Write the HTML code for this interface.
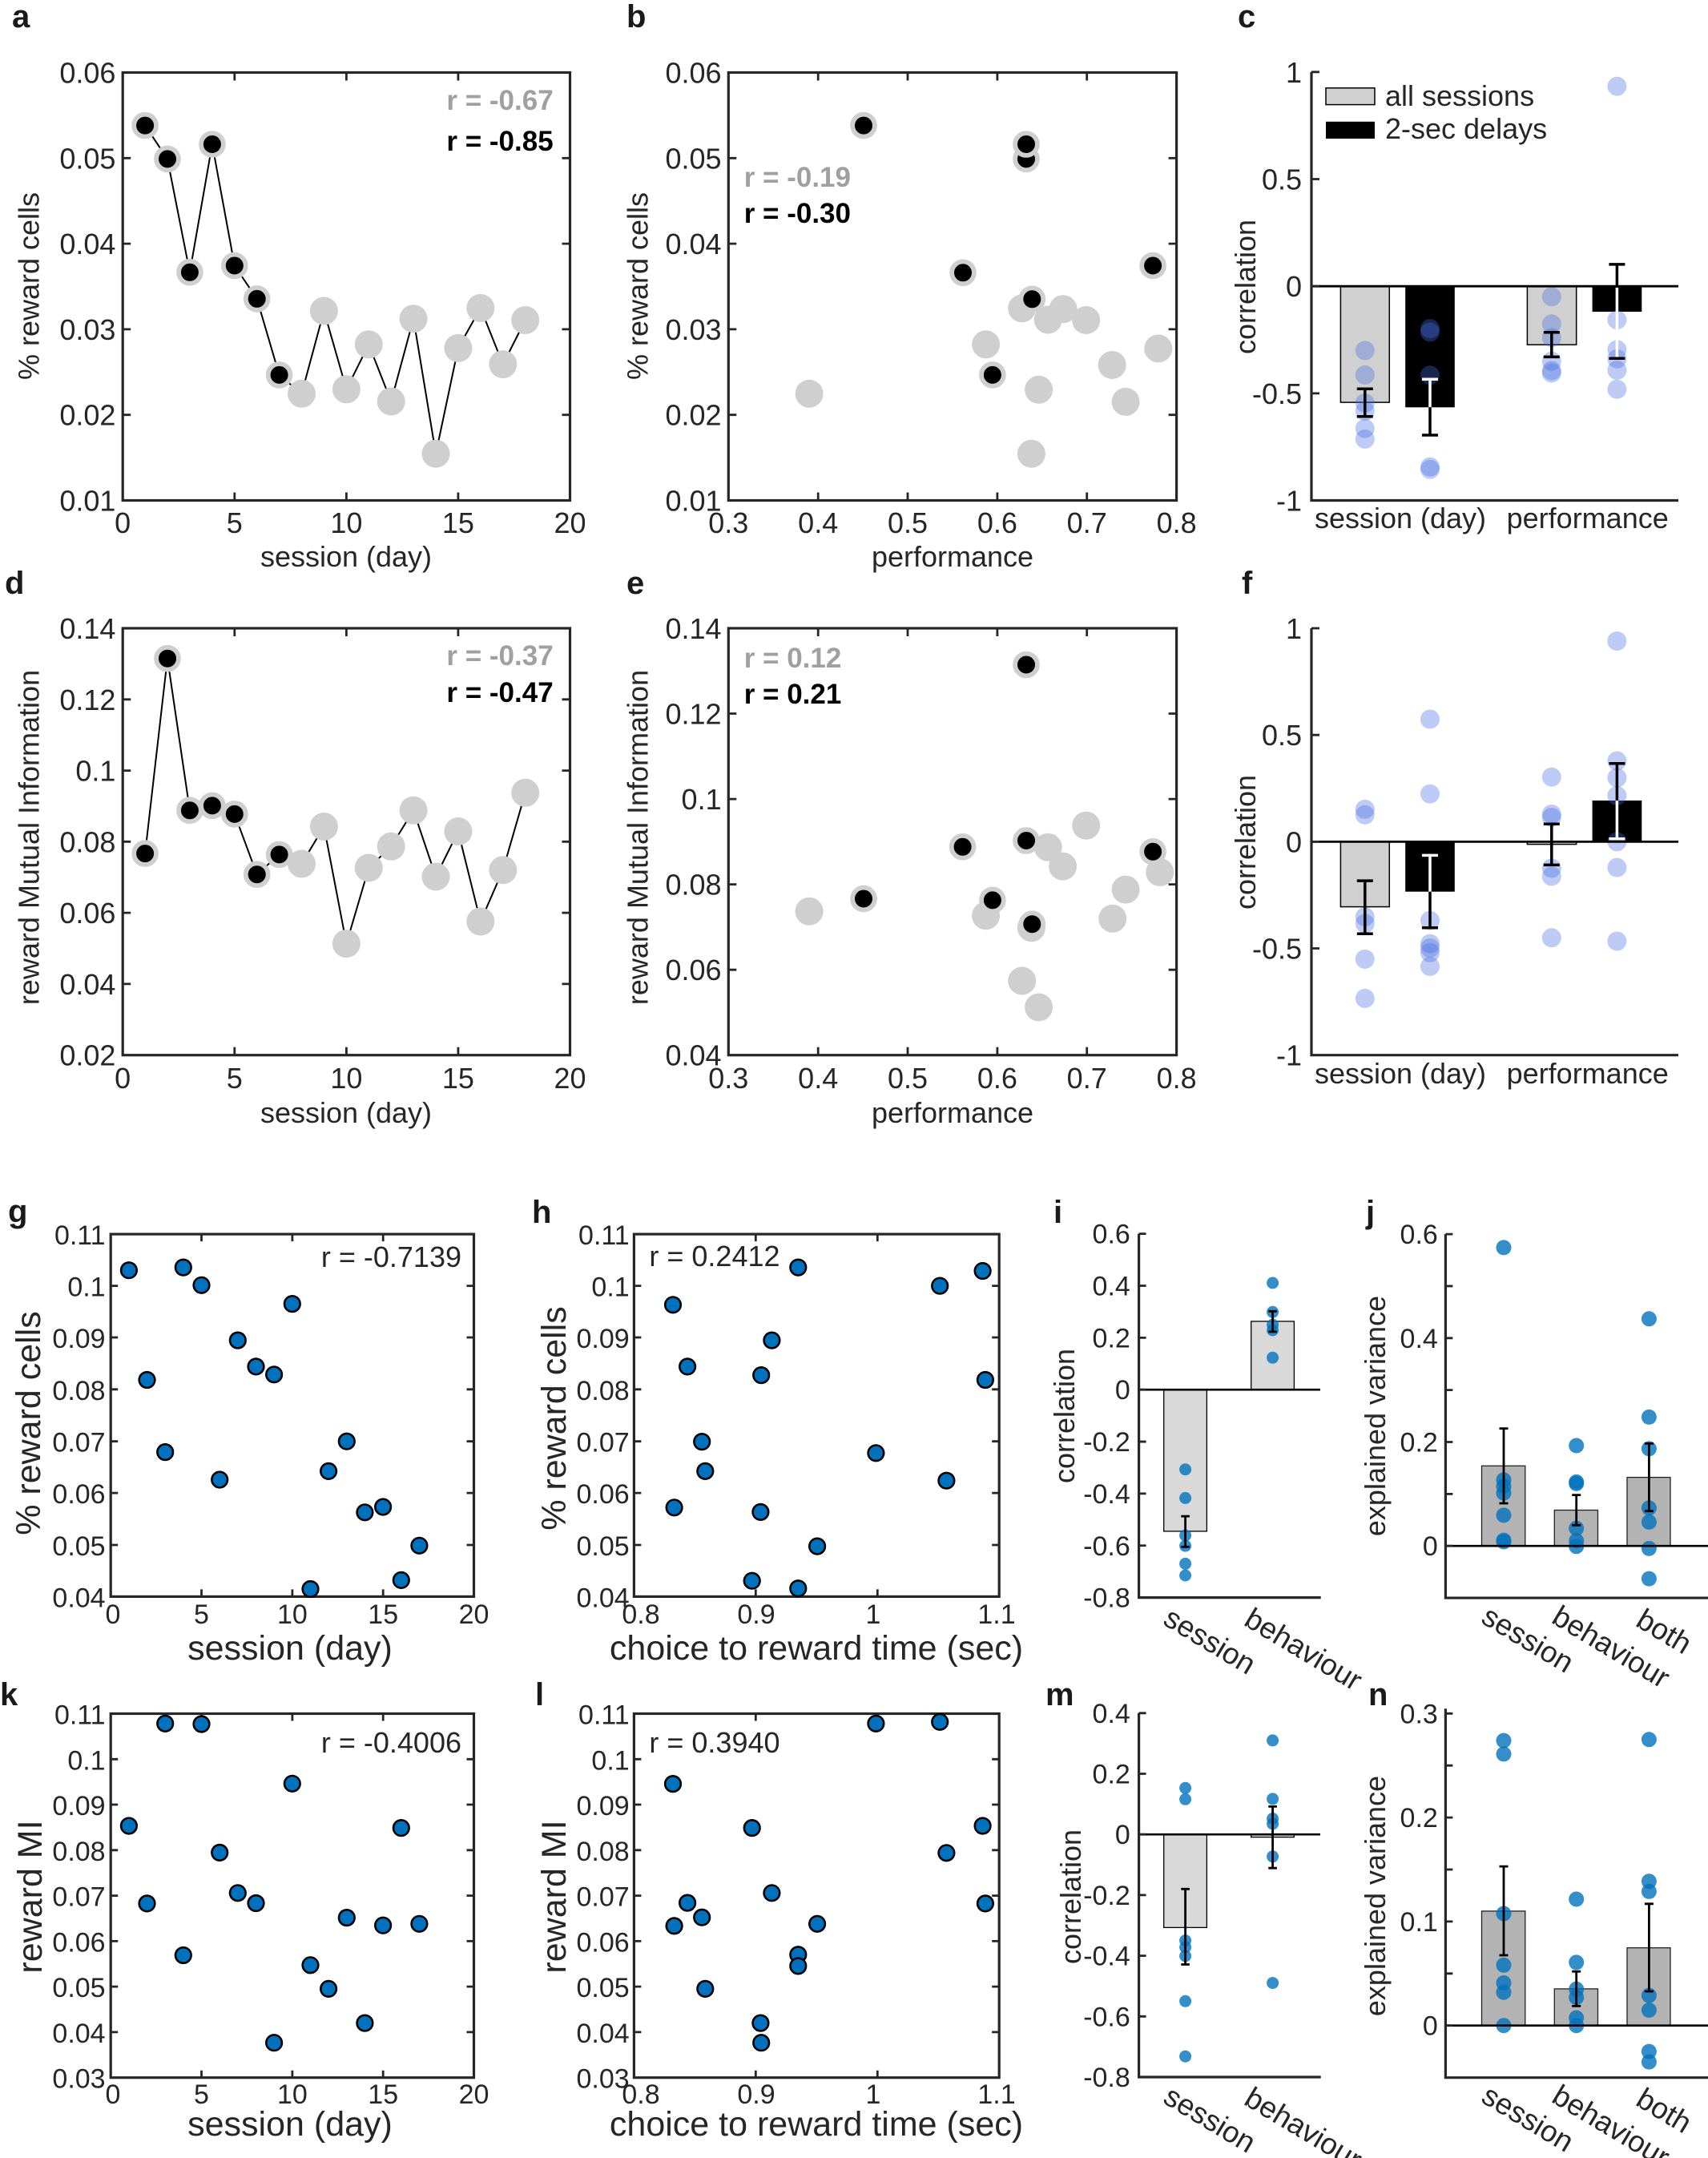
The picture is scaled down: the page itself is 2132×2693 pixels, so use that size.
<!DOCTYPE html>
<html><head><meta charset="utf-8"><style>
html,body{margin:0;padding:0;background:#fff;}
svg{display:block;}
text{font-family:"Liberation Sans",Arial,Helvetica,sans-serif;fill:#262626;}
.t36{font-size:36px;}
.t34{font-size:34px;}
.t43{font-size:43px;}
.t37{font-size:37px;}
.L{font-size:40px;font-weight:bold;fill:#1a1a1a;}
.rb{font-size:35px;font-weight:bold;}
.ax{fill:none;stroke:#262626;stroke-width:3.2;}
.tk{fill:none;stroke:#262626;stroke-width:2.8;}
.gc{fill:#cfcfcf;}
.bc{fill:#000;stroke:#cfcfcf;stroke-width:5.8;}
.bm{fill:#0072BD;stroke:#000;stroke-width:2.6;}
.rd{fill:#4169E1;fill-opacity:0.35;}
.bd{fill:#0072BD;fill-opacity:0.8;}
.eb{fill:none;stroke:#000;stroke-width:3.5;}
.ew{fill:none;stroke:#fff;stroke-width:3.5;}
.eb2{fill:none;stroke:#000;stroke-width:2.8;}
</style></head><body>
<svg width="2132" height="2693" viewBox="0 0 2132 2693" xmlns="http://www.w3.org/2000/svg">
<rect width="2132" height="2693" fill="#fff"/>

<!-- ===== Panel a ===== -->
<text class="L" x="15" y="34">a</text>
<rect class="ax" x="153.2" y="90.5" width="558.3" height="534"/>
<path class="tk" d="M153.2 197.3h10M153.2 304.1h10M153.2 410.9h10M153.2 517.7h10M711.5 197.3h-10M711.5 304.1h-10M711.5 410.9h-10M711.5 517.7h-10M292.8 624.5v-10M432.4 624.5v-10M571.9 624.5v-10M292.8 90.5v10M432.4 90.5v10M571.9 90.5v10"/>
<g class="t36" text-anchor="end">
<text x="144.4" y="103.5">0.06</text><text x="144.4" y="210.3">0.05</text><text x="144.4" y="317.1">0.04</text><text x="144.4" y="423.9">0.03</text><text x="144.4" y="530.7">0.02</text><text x="144.4" y="637.5">0.01</text>
</g>
<g class="t36" text-anchor="middle">
<text x="153.2" y="665">0</text><text x="292.8" y="665">5</text><text x="432.4" y="665">10</text><text x="571.9" y="665">15</text><text x="711.5" y="665">20</text>
<text x="432" y="707">session (day)</text>
<text transform="translate(48.5,357) rotate(-90)">% reward cells</text>
</g>
<polyline fill="none" stroke="#000" stroke-width="2" points="181.1,156.6 209.0,198.4 236.9,339.8 264.9,180.0 292.8,331.5 320.7,372.9 348.6,467.9 376.5,491.3 404.4,388.0 432.4,485.8 460.3,429.8 488.2,501.0 516.1,397.7 544.0,566.2 571.9,434.4 599.8,384.4 627.8,454.6 655.7,399.5"/>
<g class="gc">
<circle cx="376.5" cy="491.3" r="17.5"/><circle cx="404.4" cy="388.0" r="17.5"/><circle cx="432.4" cy="485.8" r="17.5"/><circle cx="460.3" cy="429.8" r="17.5"/><circle cx="488.2" cy="501.0" r="17.5"/><circle cx="516.1" cy="397.7" r="17.5"/><circle cx="544.0" cy="566.2" r="17.5"/><circle cx="571.9" cy="434.4" r="17.5"/><circle cx="599.8" cy="384.4" r="17.5"/><circle cx="627.8" cy="454.6" r="17.5"/><circle cx="655.7" cy="399.5" r="17.5"/>
</g>
<g class="bc">
<circle cx="181.1" cy="156.6" r="13.9"/><circle cx="209.0" cy="198.4" r="13.9"/><circle cx="236.9" cy="339.8" r="13.9"/><circle cx="264.9" cy="180.0" r="13.9"/><circle cx="292.8" cy="331.5" r="13.9"/><circle cx="320.7" cy="372.9" r="13.9"/><circle cx="348.6" cy="467.9" r="13.9"/>
</g>
<text class="rb" x="690.7" y="137" text-anchor="end" style="fill:#a0a0a0">r = -0.67</text>
<text class="rb" x="690.7" y="188" text-anchor="end" style="fill:#000">r = -0.85</text>

<!-- ===== Panel b ===== -->
<text class="L" x="782" y="34">b</text>
<rect class="ax" x="909.3" y="90.5" width="559.3" height="534"/>
<path class="tk" d="M909.3 197.3h10M909.3 304.1h10M909.3 410.9h10M909.3 517.7h10M1468.6 197.3h-10M1468.6 304.1h-10M1468.6 410.9h-10M1468.6 517.7h-10M1021.2 624.5v-10M1133.0 624.5v-10M1244.9 624.5v-10M1356.7 624.5v-10M1021.2 90.5v10M1133.0 90.5v10M1244.9 90.5v10M1356.7 90.5v10"/>
<g class="t36" text-anchor="end">
<text x="900.6" y="103.5">0.06</text><text x="900.6" y="210.3">0.05</text><text x="900.6" y="317.1">0.04</text><text x="900.6" y="423.9">0.03</text><text x="900.6" y="530.7">0.02</text><text x="900.6" y="637.5">0.01</text>
</g>
<g class="t36" text-anchor="middle">
<text x="909.3" y="665">0.3</text><text x="1021.2" y="665">0.4</text><text x="1133.0" y="665">0.5</text><text x="1244.9" y="665">0.6</text><text x="1356.7" y="665">0.7</text><text x="1468.6" y="665">0.8</text>
<text x="1189" y="707">performance</text>
<text transform="translate(808.5,357) rotate(-90)">% reward cells</text>
</g>
<g class="gc">
<circle cx="1010.1" cy="491.3" r="17.5"/><circle cx="1275.7" cy="384.8" r="17.5"/><circle cx="1308.2" cy="399.0" r="17.5"/><circle cx="1327.1" cy="385.7" r="17.5"/><circle cx="1355.7" cy="399.5" r="17.5"/><circle cx="1230.6" cy="429.8" r="17.5"/><circle cx="1445.8" cy="434.9" r="17.5"/><circle cx="1388.2" cy="455.5" r="17.5"/><circle cx="1296.6" cy="486.3" r="17.5"/><circle cx="1405.1" cy="501.4" r="17.5"/><circle cx="1287.4" cy="566.2" r="17.5"/>
</g>
<g class="bc">
<circle cx="1078.0" cy="156.6" r="13.9"/><circle cx="1281.0" cy="198.4" r="13.9"/><circle cx="1281.0" cy="180.0" r="13.9"/><circle cx="1202.0" cy="340.3" r="13.9"/><circle cx="1439.1" cy="331.5" r="13.9"/><circle cx="1288.3" cy="373.3" r="13.9"/><circle cx="1238.9" cy="467.9" r="13.9"/>
</g>
<text class="rb" x="928.7" y="233" style="fill:#a0a0a0">r = -0.19</text>
<text class="rb" x="928.7" y="278" style="fill:#000">r = -0.30</text>

<!-- ===== Panel c ===== -->
<text class="L" x="1545" y="34">c</text>
<rect x="1673.4" y="357.2" width="60.9" height="144.9" fill="#d0d0d0" stroke="#000" stroke-width="1.5"/>
<rect x="1754.2" y="357.2" width="61.6" height="151.1" fill="#000"/>
<rect x="1906.4" y="357.2" width="61.3" height="73" fill="#d0d0d0" stroke="#000" stroke-width="1.5"/>
<rect x="1987.6" y="357.2" width="61.7" height="31.8" fill="#000"/>
<g class="rd">
<circle cx="1703.8" cy="437.4" r="12"/><circle cx="1703.8" cy="467.9" r="12"/><circle cx="1703.8" cy="502.9" r="12"/><circle cx="1703.8" cy="513.1" r="12"/><circle cx="1703.8" cy="534.7" r="12"/><circle cx="1703.8" cy="547.9" r="12"/>
<circle cx="1785" cy="410.1" r="12"/><circle cx="1785" cy="414.4" r="12"/><circle cx="1785" cy="468.2" r="12"/><circle cx="1785" cy="582.6" r="12"/><circle cx="1785" cy="585.8" r="12"/>
<circle cx="1936.8" cy="370.3" r="12"/><circle cx="1936.8" cy="404.3" r="12"/><circle cx="1936.8" cy="421.4" r="12"/><circle cx="1936.8" cy="450.8" r="12"/><circle cx="1936.8" cy="462.5" r="12"/><circle cx="1936.8" cy="465.5" r="12"/>
<circle cx="2018.4" cy="107.7" r="12"/><circle cx="2018.4" cy="399.2" r="12"/><circle cx="2018.4" cy="436.3" r="12"/><circle cx="2018.4" cy="447.8" r="12"/><circle cx="2018.4" cy="462.0" r="12"/><circle cx="2018.4" cy="485.8" r="12"/>
</g>
<path d="M1637 357.2H2095" stroke="#000" stroke-width="2.8"/>
<path class="eb" d="M1703.8 485.3V519.8M1693.8 485.3h20M1693.8 519.8h20"/>
<path class="ew" d="M1785 473.2V508.3M1775 473.2h20"/>
<path class="eb" d="M1785 508.3V543M1775 543h20"/>
<path class="eb" d="M1936.8 414.7V445.4M1926.8 414.7h20M1926.8 445.4h20"/>
<path class="eb" d="M2018.4 329.9V357.2M2008.4 329.9h20"/>
<path class="ew" d="M2018.4 359V447.3"/>
<path class="eb" d="M2008.4 447.3h20"/>
<path class="ax" d="M1637 89.8V624.5H2095"/>
<path class="tk" d="M1637 89.8h10M1637 223.5h10M1637 357.2h10M1637 490.9h10"/>
<g class="t36" text-anchor="end">
<text x="1625" y="102.8">1</text><text x="1625" y="236.5">0.5</text><text x="1625" y="370.2">0</text><text x="1625" y="503.9">-0.5</text><text x="1625" y="637.5">-1</text>
</g>
<g class="t36" text-anchor="middle">
<text x="1748" y="659">session (day)</text><text x="1981.7" y="659">performance</text>
<text transform="translate(1566.8,358) rotate(-90)">correlation</text>
</g>
<rect x="1655" y="109.8" width="61" height="20.8" fill="#d0d0d0" stroke="#000" stroke-width="1.5"/>
<rect x="1655" y="151.8" width="61" height="21.2" fill="#000"/>
<text class="t36" x="1729" y="132">all sessions</text>
<text class="t36" x="1729" y="173">2-sec delays</text>

<!-- ===== Panel d ===== -->
<text class="L" x="6" y="741">d</text>
<rect class="ax" x="153.2" y="784" width="558.3" height="532.7"/>
<path class="tk" d="M153.2 872.8h10M153.2 961.6h10M153.2 1050.3h10M153.2 1139.1h10M153.2 1227.9h10M711.5 872.8h-10M711.5 961.6h-10M711.5 1050.3h-10M711.5 1139.1h-10M711.5 1227.9h-10M292.8 1316.7v-10M432.4 1316.7v-10M571.9 1316.7v-10M292.8 784v10M432.4 784v10M571.9 784v10"/>
<g class="t36" text-anchor="end">
<text x="144.4" y="797">0.14</text><text x="144.4" y="885.8">0.12</text><text x="144.4" y="974.6">0.1</text><text x="144.4" y="1063.3">0.08</text><text x="144.4" y="1152.1">0.06</text><text x="144.4" y="1240.9">0.04</text><text x="144.4" y="1329.7">0.02</text>
</g>
<g class="t36" text-anchor="middle">
<text x="153.2" y="1358">0</text><text x="292.8" y="1358">5</text><text x="432.4" y="1358">10</text><text x="571.9" y="1358">15</text><text x="711.5" y="1358">20</text>
<text x="432" y="1401">session (day)</text>
<text transform="translate(48.5,1045) rotate(-90)">reward Mutual Information</text>
</g>
<polyline fill="none" stroke="#000" stroke-width="2" points="181.1,1065.1 209.0,821.7 236.9,1011.3 264.9,1005.4 292.8,1015.9 320.7,1091.2 348.6,1066.4 376.5,1077.9 404.4,1031.5 432.4,1177.6 460.3,1083.0 488.2,1056.3 516.1,1011.3 544.0,1094.0 571.9,1037.5 599.8,1150.0 627.8,1085.7 655.7,989.3"/>
<g class="gc">
<circle cx="376.5" cy="1077.9" r="17.5"/><circle cx="404.4" cy="1031.5" r="17.5"/><circle cx="432.4" cy="1177.6" r="17.5"/><circle cx="460.3" cy="1083.0" r="17.5"/><circle cx="488.2" cy="1056.3" r="17.5"/><circle cx="516.1" cy="1011.3" r="17.5"/><circle cx="544.0" cy="1094.0" r="17.5"/><circle cx="571.9" cy="1037.5" r="17.5"/><circle cx="599.8" cy="1150.0" r="17.5"/><circle cx="627.8" cy="1085.7" r="17.5"/><circle cx="655.7" cy="989.3" r="17.5"/>
</g>
<g class="bc">
<circle cx="181.1" cy="1065.1" r="13.9"/><circle cx="209.0" cy="821.7" r="13.9"/><circle cx="236.9" cy="1011.3" r="13.9"/><circle cx="264.9" cy="1005.4" r="13.9"/><circle cx="292.8" cy="1015.9" r="13.9"/><circle cx="320.7" cy="1091.2" r="13.9"/><circle cx="348.6" cy="1066.4" r="13.9"/>
</g>
<text class="rb" x="690.7" y="830" text-anchor="end" style="fill:#a0a0a0">r = -0.37</text>
<text class="rb" x="690.7" y="876" text-anchor="end" style="fill:#000">r = -0.47</text>

<!-- ===== Panel e ===== -->
<text class="L" x="782" y="741">e</text>
<rect class="ax" x="909.3" y="784" width="559.3" height="532.7"/>
<path class="tk" d="M909.3 890.5h10M909.3 997.1h10M909.3 1103.6h10M909.3 1210.2h10M1468.6 890.5h-10M1468.6 997.1h-10M1468.6 1103.6h-10M1468.6 1210.2h-10M1021.2 1316.7v-10M1133.0 1316.7v-10M1244.9 1316.7v-10M1356.7 1316.7v-10M1021.2 784v10M1133.0 784v10M1244.9 784v10M1356.7 784v10"/>
<g class="t36" text-anchor="end">
<text x="900.6" y="797">0.14</text><text x="900.6" y="903.5">0.12</text><text x="900.6" y="1010.1">0.1</text><text x="900.6" y="1116.6">0.08</text><text x="900.6" y="1223.2">0.06</text><text x="900.6" y="1329.7">0.04</text>
</g>
<g class="t36" text-anchor="middle">
<text x="909.3" y="1358">0.3</text><text x="1021.2" y="1358">0.4</text><text x="1133.0" y="1358">0.5</text><text x="1244.9" y="1358">0.6</text><text x="1356.7" y="1358">0.7</text><text x="1468.6" y="1358">0.8</text>
<text x="1189" y="1401">performance</text>
<text transform="translate(808.5,1045) rotate(-90)">reward Mutual Information</text>
</g>
<g class="gc">
<circle cx="1010.1" cy="1137.2" r="17.5"/><circle cx="1355.7" cy="1030.2" r="17.5"/><circle cx="1308.2" cy="1057.3" r="17.5"/><circle cx="1326.6" cy="1081.1" r="17.5"/><circle cx="1447.8" cy="1088.5" r="17.5"/><circle cx="1405.1" cy="1110.1" r="17.5"/><circle cx="1230.6" cy="1142.7" r="17.5"/><circle cx="1388.7" cy="1146.3" r="17.5"/><circle cx="1287.4" cy="1157.8" r="17.5"/><circle cx="1275.7" cy="1224.0" r="17.5"/><circle cx="1296.6" cy="1257.0" r="17.5"/>
</g>
<g class="bc">
<circle cx="1281.0" cy="829.5" r="13.9"/><circle cx="1201.6" cy="1056.8" r="13.9"/><circle cx="1281.0" cy="1049.0" r="13.9"/><circle cx="1439.1" cy="1062.8" r="13.9"/><circle cx="1078.0" cy="1121.5" r="13.9"/><circle cx="1238.9" cy="1123.4" r="13.9"/><circle cx="1288.3" cy="1153.2" r="13.9"/>
</g>
<text class="rb" x="928.7" y="833" style="fill:#a0a0a0">r = 0.12</text>
<text class="rb" x="928.7" y="878" style="fill:#000">r = 0.21</text>

<!-- ===== Panel f ===== -->
<text class="L" x="1550" y="741">f</text>
<rect x="1673.4" y="1050.4" width="60.9" height="81.2" fill="#d0d0d0" stroke="#000" stroke-width="1.5"/>
<rect x="1754.2" y="1050.4" width="61.6" height="62.3" fill="#000"/>
<rect x="1906.4" y="1050.4" width="61.3" height="3.2" fill="#d0d0d0" stroke="#000" stroke-width="1.5"/>
<rect x="1987.6" y="999.0" width="61.7" height="51.4" fill="#000"/>
<g class="rd">
<circle cx="1703.8" cy="1009.9" r="12"/><circle cx="1703.8" cy="1016.8" r="12"/><circle cx="1703.8" cy="1144.2" r="12"/><circle cx="1703.8" cy="1152.4" r="12"/><circle cx="1703.8" cy="1196.9" r="12"/><circle cx="1703.8" cy="1245.9" r="12"/>
<circle cx="1785" cy="897.5" r="12"/><circle cx="1785" cy="990.7" r="12"/><circle cx="1785" cy="1148.7" r="12"/><circle cx="1785" cy="1177.7" r="12"/><circle cx="1785" cy="1183.0" r="12"/><circle cx="1785" cy="1188.9" r="12"/><circle cx="1785" cy="1205.9" r="12"/>
<circle cx="1936.8" cy="969.7" r="12"/><circle cx="1936.8" cy="1016.0" r="12"/><circle cx="1936.8" cy="1020.0" r="12"/><circle cx="1936.8" cy="1083.4" r="12"/><circle cx="1936.8" cy="1093.5" r="12"/><circle cx="1936.8" cy="1170.3" r="12"/>
<circle cx="2018.4" cy="800.0" r="12"/><circle cx="2018.4" cy="949.5" r="12"/><circle cx="2018.4" cy="970.5" r="12"/><circle cx="2018.4" cy="992.9" r="12"/><circle cx="2018.4" cy="1050.4" r="12"/><circle cx="2018.4" cy="1082.6" r="12"/><circle cx="2018.4" cy="1174.5" r="12"/>
</g>
<path d="M1637 1050.4H2095" stroke="#000" stroke-width="2.8"/>
<path class="eb" d="M1703.8 1099.1V1165.2M1693.8 1099.1h20M1693.8 1165.2h20"/>
<path class="ew" d="M1785 1067.4V1112.7M1775 1067.4h20"/>
<path class="eb" d="M1785 1112.7V1157.7M1775 1157.7h20"/>
<path class="eb" d="M1936.8 1028.3V1079.4M1926.8 1028.3h20M1926.8 1079.4h20"/>
<path class="eb" d="M2018.4 952.7V999M2008.4 952.7h20"/>
<path class="ew" d="M2018.4 999V1046.7M2008.4 1046.7h20"/>
<path class="ax" d="M1637 784V1316.7H2095"/>
<path class="tk" d="M1637 784h10M1637 917.2h10M1637 1050.4h10M1637 1183.5h10"/>
<g class="t36" text-anchor="end">
<text x="1625" y="797">1</text><text x="1625" y="930.2">0.5</text><text x="1625" y="1063.4">0</text><text x="1625" y="1196.5">-0.5</text><text x="1625" y="1329.7">-1</text>
</g>
<g class="t36" text-anchor="middle">
<text x="1748" y="1352">session (day)</text><text x="1981.7" y="1352">performance</text>
<text transform="translate(1566.8,1051) rotate(-90)">correlation</text>
</g>

<!-- ===== Panel g ===== -->
<text class="L" x="10" y="1525">g</text>
<rect class="ax" x="138.2" y="1540.1" width="453.3" height="452.3"/>
<path class="tk" d="M138.2 1604.6h9M138.2 1669.0h9M138.2 1733.8h9M138.2 1798.7h9M138.2 1863.1h9M138.2 1928.0h9M591.5 1604.6h-9M591.5 1669.0h-9M591.5 1733.8h-9M591.5 1798.7h-9M591.5 1863.1h-9M591.5 1928.0h-9M251.5 1992.4v-9M364.9 1992.4v-9M478.2 1992.4v-9M251.5 1540.1v9M364.9 1540.1v9M478.2 1540.1v9"/>
<g class="t34" text-anchor="end">
<text x="131.6" y="1553">0.11</text><text x="131.6" y="1617.5">0.1</text><text x="131.6" y="1682">0.09</text><text x="131.6" y="1746.8">0.08</text><text x="131.6" y="1811.7">0.07</text><text x="131.6" y="1876.1">0.06</text><text x="131.6" y="1941">0.05</text><text x="131.6" y="2005.4">0.04</text>
</g>
<g class="t34" text-anchor="middle">
<text x="141" y="2026">0</text><text x="251.5" y="2026">5</text><text x="364.9" y="2026">10</text><text x="478.2" y="2026">15</text><text x="591.5" y="2026">20</text>
</g>
<text class="t43" x="362" y="2071" text-anchor="middle">session (day)</text>
<text class="t43" transform="translate(50,1776) rotate(-90)" text-anchor="middle">% reward cells</text>
<g class="bm">
<circle cx="160.9" cy="1585.2" r="9.8"/><circle cx="183.5" cy="1722.0" r="9.8"/><circle cx="206.2" cy="1812.1" r="9.8"/><circle cx="228.8" cy="1581.6" r="9.8"/><circle cx="251.5" cy="1603.8" r="9.8"/><circle cx="274.2" cy="1846.5" r="9.8"/><circle cx="296.8" cy="1672.6" r="9.8"/><circle cx="319.5" cy="1705.4" r="9.8"/><circle cx="342.1" cy="1715.3" r="9.8"/><circle cx="364.8" cy="1627.1" r="9.8"/><circle cx="387.5" cy="1983.0" r="9.8"/><circle cx="410.1" cy="1835.9" r="9.8"/><circle cx="432.8" cy="1798.7" r="9.8"/><circle cx="455.4" cy="1887.3" r="9.8"/><circle cx="478.1" cy="1880.5" r="9.8"/><circle cx="500.8" cy="1971.9" r="9.8"/><circle cx="523.4" cy="1928.8" r="9.8"/>
</g>
<text class="t36" x="576" y="1581" text-anchor="end">r = -0.7139</text>

<!-- ===== Panel h ===== -->
<text class="L" x="664" y="1526">h</text>
<rect class="ax" x="791.4" y="1540.1" width="455.8" height="452.3"/>
<path class="tk" d="M791.4 1604.6h9M791.4 1669.0h9M791.4 1733.8h9M791.4 1798.7h9M791.4 1863.1h9M791.4 1928.0h9M1247.2 1604.6h-9M1247.2 1669.0h-9M1247.2 1733.8h-9M1247.2 1798.7h-9M1247.2 1863.1h-9M1247.2 1928.0h-9M943.3 1992.4v-9M1095.3 1992.4v-9M943.3 1540.1v9M1095.3 1540.1v9"/>
<g class="t34" text-anchor="end">
<text x="785.7" y="1553">0.11</text><text x="785.7" y="1617.5">0.1</text><text x="785.7" y="1682">0.09</text><text x="785.7" y="1746.8">0.08</text><text x="785.7" y="1811.7">0.07</text><text x="785.7" y="1876.1">0.06</text><text x="785.7" y="1941">0.05</text><text x="785.7" y="2005.4">0.04</text>
</g>
<g class="t34" text-anchor="middle">
<text x="800" y="2026">0.8</text><text x="944" y="2026">0.9</text><text x="1090" y="2026">1</text><text x="1244" y="2026">1.1</text>
</g>
<text class="t43" x="1019" y="2071" text-anchor="middle">choice to reward time (sec)</text>
<text class="t43" transform="translate(706,1770) rotate(-90)" text-anchor="middle">% reward cells</text>
<g class="bm">
<circle cx="996.3" cy="1581.6" r="9.8"/><circle cx="1226.6" cy="1586.0" r="9.8"/><circle cx="1173.2" cy="1604.6" r="9.8"/><circle cx="840.0" cy="1628.3" r="9.8"/><circle cx="963.4" cy="1672.6" r="9.8"/><circle cx="858.1" cy="1705.4" r="9.8"/><circle cx="950.2" cy="1716.1" r="9.8"/><circle cx="1229.9" cy="1722.0" r="9.8"/><circle cx="876.2" cy="1799.1" r="9.8"/><circle cx="1093.4" cy="1813.3" r="9.8"/><circle cx="880.3" cy="1835.9" r="9.8"/><circle cx="1181.4" cy="1847.7" r="9.8"/><circle cx="841.6" cy="1881.3" r="9.8"/><circle cx="949.4" cy="1886.9" r="9.8"/><circle cx="1020.1" cy="1929.6" r="9.8"/><circle cx="938.7" cy="1972.7" r="9.8"/><circle cx="996.3" cy="1982.2" r="9.8"/>
</g>
<text class="t36" x="810.4" y="1580">r = 0.2412</text>

<!-- ===== Panel i ===== -->
<text class="L" x="1315" y="1526">i</text>
<rect x="1452.7" y="1734.2" width="53.7" height="176.7" fill="#d9d9d9" stroke="#000" stroke-width="1.3"/>
<rect x="1561.7" y="1648.9" width="53.7" height="85.3" fill="#d9d9d9" stroke="#000" stroke-width="1.3"/>
<g class="bd">
<circle cx="1479.6" cy="1833.7" r="7.5"/><circle cx="1479.6" cy="1869.4" r="7.5"/><circle cx="1479.6" cy="1916.1" r="7.5"/><circle cx="1479.6" cy="1929.1" r="7.5"/><circle cx="1479.6" cy="1951.4" r="7.5"/><circle cx="1479.6" cy="1966.0" r="7.5"/>
<circle cx="1588.6" cy="1601.0" r="7.5"/><circle cx="1588.6" cy="1637.3" r="7.5"/><circle cx="1588.6" cy="1653.2" r="7.5"/><circle cx="1588.6" cy="1660.0" r="7.5"/><circle cx="1588.6" cy="1694.3" r="7.5"/>
</g>
<path d="M1421.6 1734.2H1648" stroke="#000" stroke-width="2.6"/>
<path class="eb2" d="M1479.6 1892.1V1930.3M1474.3 1892.1h10.6M1474.3 1930.3h10.6M1588.6 1636.3V1661.9M1583.3 1636.3h10.6M1583.3 1661.9h10.6"/>
<path class="ax" d="M1421.6 1539.65V1993.6H1648.7"/>
<path class="tk" d="M1421.6 1539.65h9M1421.6 1604.5h9M1421.6 1669.35h9M1421.6 1734.2h9M1421.6 1799.05h9M1421.6 1863.9h9M1421.6 1928.75h9"/>
<g class="t34" text-anchor="end">
<text x="1410.8" y="1551.7">0.6</text><text x="1410.8" y="1616.5">0.4</text><text x="1410.8" y="1681.4">0.2</text><text x="1410.8" y="1746.2">0</text><text x="1410.8" y="1811">-0.2</text><text x="1410.8" y="1875.9">-0.4</text><text x="1410.8" y="1940.8">-0.6</text><text x="1410.8" y="2005.6">-0.8</text>
</g>
<text class="t36" transform="translate(1341,1767) rotate(-90)" text-anchor="middle">correlation</text>
<text class="t37" transform="translate(1450,2026) rotate(31)">session</text>
<text class="t37" transform="translate(1551,2027) rotate(31)">behaviour</text>

<!-- ===== Panel j ===== -->
<text class="L" x="1705" y="1526">j</text>
<rect x="1849.5" y="1829.3" width="54.3" height="99.9" fill="#b3b3b3" stroke="#222" stroke-width="1.3"/>
<rect x="1940.3" y="1884.5" width="54.2" height="44.7" fill="#b3b3b3" stroke="#222" stroke-width="1.3"/>
<rect x="2031" y="1843.6" width="54" height="85.6" fill="#b3b3b3" stroke="#222" stroke-width="1.3"/>
<g class="bd">
<circle cx="1877" cy="1556.9" r="9.5"/><circle cx="1877" cy="1846.8" r="9.5"/><circle cx="1877" cy="1854.6" r="9.5"/><circle cx="1877" cy="1863.1" r="9.5"/><circle cx="1877" cy="1890.9" r="9.5"/><circle cx="1877" cy="1922.1" r="9.5"/><circle cx="1877" cy="1924.0" r="9.5"/>
<circle cx="1967.7" cy="1804.0" r="9.5"/><circle cx="1967.7" cy="1849.4" r="9.5"/><circle cx="1967.7" cy="1851.4" r="9.5"/><circle cx="1967.7" cy="1907.2" r="9.5"/><circle cx="1967.7" cy="1922.7" r="9.5"/><circle cx="1967.7" cy="1929.8" r="9.5"/>
<circle cx="2058.4" cy="1645.8" r="9.5"/><circle cx="2058.4" cy="1768.4" r="9.5"/><circle cx="2058.4" cy="1807.9" r="9.5"/><circle cx="2058.4" cy="1881.9" r="9.5"/><circle cx="2058.4" cy="1899.4" r="9.5"/><circle cx="2058.4" cy="1932.4" r="9.5"/><circle cx="2058.4" cy="1970.1" r="9.5"/>
</g>
<path d="M1804.4 1929.2H2132" stroke="#000" stroke-width="2.6"/>
<path class="eb2" d="M1877 1782.6V1876.0M1871.5 1782.6h11M1871.5 1876.0h11M1967.7 1865.6V1903.3M1962.2 1865.6h11M1962.2 1903.3h11M2058.4 1801.4V1885.7M2052.9 1801.4h11M2052.9 1885.7h11"/>
<path class="ax" d="M1804.4 1540.1V1994.05H2132"/>
<path class="tk" d="M1804.4 1540.1h9M1804.4 1604.95h9M1804.4 1669.8h9M1804.4 1734.65h9M1804.4 1799.5h9M1804.4 1864.35h9M1804.4 1929.2h9"/>
<g class="t34" text-anchor="end">
<text x="1794.8" y="1552.1">0.6</text><text x="1794.8" y="1681.8">0.4</text><text x="1794.8" y="1811.5">0.2</text><text x="1794.8" y="1941.2">0</text>
</g>
<text class="t36" transform="translate(1729,1767) rotate(-90)" text-anchor="middle">explained variance</text>
<text class="t37" transform="translate(1847,2024) rotate(31)">session</text>
<text class="t37" transform="translate(1935,2024) rotate(31)">behaviour</text>
<text class="t37" transform="translate(2040,2028) rotate(31)">both</text>

<!-- ===== Panel k ===== -->
<text class="L" x="0" y="2128">k</text>
<rect class="ax" x="138.2" y="2138.5" width="453.3" height="454.2"/>
<path class="tk" d="M138.2 2195.3h9M138.2 2252.0h9M138.2 2308.8h9M138.2 2365.6h9M138.2 2422.4h9M138.2 2479.1h9M138.2 2535.9h9M591.5 2195.3h-9M591.5 2252.0h-9M591.5 2308.8h-9M591.5 2365.6h-9M591.5 2422.4h-9M591.5 2479.1h-9M591.5 2535.9h-9M251.5 2592.7v-9M364.9 2592.7v-9M478.2 2592.7v-9M251.5 2138.5v9M364.9 2138.5v9M478.2 2138.5v9"/>
<g class="t34" text-anchor="end">
<text x="131.6" y="2151.5">0.11</text><text x="131.6" y="2208.3">0.1</text><text x="131.6" y="2265">0.09</text><text x="131.6" y="2321.8">0.08</text><text x="131.6" y="2378.6">0.07</text><text x="131.6" y="2435.4">0.06</text><text x="131.6" y="2492.1">0.05</text><text x="131.6" y="2548.9">0.04</text><text x="131.6" y="2605.7">0.03</text>
</g>
<g class="t34" text-anchor="middle">
<text x="141" y="2625">0</text><text x="251.5" y="2625">5</text><text x="364.9" y="2625">10</text><text x="478.2" y="2625">15</text><text x="591.5" y="2625">20</text>
</g>
<text class="t43" x="362" y="2665" text-anchor="middle">session (day)</text>
<text class="t43" transform="translate(52,2367) rotate(-90)" text-anchor="middle">reward MI</text>
<g class="bm">
<circle cx="160.9" cy="2278.5" r="9.8"/><circle cx="183.5" cy="2375.4" r="9.8"/><circle cx="206.2" cy="2150.8" r="9.8"/><circle cx="228.8" cy="2440.0" r="9.8"/><circle cx="251.5" cy="2151.5" r="9.8"/><circle cx="274.2" cy="2311.9" r="9.8"/><circle cx="296.8" cy="2362.3" r="9.8"/><circle cx="319.5" cy="2375.0" r="9.8"/><circle cx="342.1" cy="2549.2" r="9.8"/><circle cx="364.8" cy="2225.8" r="9.8"/><circle cx="387.5" cy="2452.3" r="9.8"/><circle cx="410.1" cy="2481.9" r="9.8"/><circle cx="432.8" cy="2393.1" r="9.8"/><circle cx="455.4" cy="2524.6" r="9.8"/><circle cx="478.1" cy="2402.7" r="9.8"/><circle cx="500.8" cy="2281.1" r="9.8"/><circle cx="523.4" cy="2400.8" r="9.8"/>
</g>
<text class="t36" x="576" y="2187" text-anchor="end">r = -0.4006</text>

<!-- ===== Panel l ===== -->
<text class="L" x="668" y="2128">l</text>
<rect class="ax" x="791.4" y="2138.5" width="455.8" height="454.2"/>
<path class="tk" d="M791.4 2195.3h9M791.4 2252.0h9M791.4 2308.8h9M791.4 2365.6h9M791.4 2422.4h9M791.4 2479.1h9M791.4 2535.9h9M1247.2 2195.3h-9M1247.2 2252.0h-9M1247.2 2308.8h-9M1247.2 2365.6h-9M1247.2 2422.4h-9M1247.2 2479.1h-9M1247.2 2535.9h-9M943.3 2592.7v-9M1095.3 2592.7v-9M943.3 2138.5v9M1095.3 2138.5v9"/>
<g class="t34" text-anchor="end">
<text x="785.7" y="2151.5">0.11</text><text x="785.7" y="2208.3">0.1</text><text x="785.7" y="2265">0.09</text><text x="785.7" y="2321.8">0.08</text><text x="785.7" y="2378.6">0.07</text><text x="785.7" y="2435.4">0.06</text><text x="785.7" y="2492.1">0.05</text><text x="785.7" y="2548.9">0.04</text><text x="785.7" y="2605.7">0.03</text>
</g>
<g class="t34" text-anchor="middle">
<text x="800" y="2625">0.8</text><text x="944" y="2625">0.9</text><text x="1090" y="2625">1</text><text x="1244" y="2625">1.1</text>
</g>
<text class="t43" x="1019" y="2665" text-anchor="middle">choice to reward time (sec)</text>
<text class="t43" transform="translate(706,2367) rotate(-90)" text-anchor="middle">reward MI</text>
<g class="bm">
<circle cx="1093.4" cy="2150.8" r="9.8"/><circle cx="1173.2" cy="2148.8" r="9.8"/><circle cx="840.0" cy="2226.1" r="9.8"/><circle cx="938.7" cy="2281.1" r="9.8"/><circle cx="1226.6" cy="2278.5" r="9.8"/><circle cx="1181.4" cy="2312.3" r="9.8"/><circle cx="963.4" cy="2362.3" r="9.8"/><circle cx="858.1" cy="2374.6" r="9.8"/><circle cx="1229.9" cy="2375.4" r="9.8"/><circle cx="876.2" cy="2392.7" r="9.8"/><circle cx="841.6" cy="2403.4" r="9.8"/><circle cx="1020.1" cy="2400.8" r="9.8"/><circle cx="996.3" cy="2439.2" r="9.8"/><circle cx="996.3" cy="2453.4" r="9.8"/><circle cx="880.3" cy="2481.9" r="9.8"/><circle cx="949.4" cy="2524.6" r="9.8"/><circle cx="950.2" cy="2549.2" r="9.8"/>
</g>
<text class="t36" x="810.4" y="2187">r = 0.3940</text>

<!-- ===== Panel m ===== -->
<text class="L" x="1305" y="2128">m</text>
<rect x="1452.7" y="2289.2" width="53.7" height="116.2" fill="#d9d9d9" stroke="#000" stroke-width="1.3"/>
<rect x="1561.7" y="2289.2" width="53.7" height="3.4" fill="#d9d9d9" stroke="#000" stroke-width="1.3"/>
<g class="bd">
<circle cx="1479.6" cy="2231.3" r="7.5"/><circle cx="1479.6" cy="2245.3" r="7.5"/><circle cx="1479.6" cy="2421.6" r="7.5"/><circle cx="1479.6" cy="2430.0" r="7.5"/><circle cx="1479.6" cy="2440.9" r="7.5"/><circle cx="1479.6" cy="2497.3" r="7.5"/><circle cx="1479.6" cy="2566.2" r="7.5"/>
<circle cx="1588.6" cy="2171.9" r="7.5"/><circle cx="1588.6" cy="2244.9" r="7.5"/><circle cx="1588.6" cy="2269.5" r="7.5"/><circle cx="1588.6" cy="2276.0" r="7.5"/><circle cx="1588.6" cy="2316.8" r="7.5"/><circle cx="1588.6" cy="2474.6" r="7.5"/>
</g>
<path d="M1421.6 2289.2H1648" stroke="#000" stroke-width="2.6"/>
<path class="eb2" d="M1479.6 2357.3V2451.5M1474.3 2357.3h10.6M1474.3 2451.5h10.6M1588.6 2254.4V2331.2M1583.3 2254.4h10.6M1583.3 2331.2h10.6"/>
<path class="ax" d="M1421.6 2137.8V2592H1648.7"/>
<path class="tk" d="M1421.6 2137.8h9M1421.6 2213.5h9M1421.6 2289.2h9M1421.6 2364.9h9M1421.6 2440.6h9M1421.6 2516.3h9"/>
<g class="t34" text-anchor="end">
<text x="1410.8" y="2149.8">0.4</text><text x="1410.8" y="2225.5">0.2</text><text x="1410.8" y="2301.2">0</text><text x="1410.8" y="2376.9">-0.2</text><text x="1410.8" y="2452.6">-0.4</text><text x="1410.8" y="2528.3">-0.6</text><text x="1410.8" y="2604">-0.8</text>
</g>
<text class="t36" transform="translate(1349,2367) rotate(-90)" text-anchor="middle">correlation</text>
<text class="t37" transform="translate(1450,2623) rotate(31)">session</text>
<text class="t37" transform="translate(1551,2625) rotate(31)">behaviour</text>

<!-- ===== Panel n ===== -->
<text class="L" x="1708" y="2128">n</text>
<rect x="1849.5" y="2384.9" width="54.3" height="142.8" fill="#b3b3b3" stroke="#222" stroke-width="1.3"/>
<rect x="1940.3" y="2481.9" width="54.2" height="45.8" fill="#b3b3b3" stroke="#222" stroke-width="1.3"/>
<rect x="2031" y="2430.7" width="54" height="97" fill="#b3b3b3" stroke="#222" stroke-width="1.3"/>
<g class="bd">
<circle cx="1877" cy="2172.1" r="9.5"/><circle cx="1877" cy="2188.9" r="9.5"/><circle cx="1877" cy="2388.0" r="9.5"/><circle cx="1877" cy="2452.4" r="9.5"/><circle cx="1877" cy="2474.5" r="9.5"/><circle cx="1877" cy="2486.2" r="9.5"/><circle cx="1877" cy="2527.7" r="9.5"/>
<circle cx="1967.7" cy="2370.0" r="9.5"/><circle cx="1967.7" cy="2448.9" r="9.5"/><circle cx="1967.7" cy="2482.3" r="9.5"/><circle cx="1967.7" cy="2492.7" r="9.5"/><circle cx="1967.7" cy="2518.1" r="9.5"/><circle cx="1967.7" cy="2527.7" r="9.5"/>
<circle cx="2058.4" cy="2170.8" r="9.5"/><circle cx="2058.4" cy="2347.7" r="9.5"/><circle cx="2058.4" cy="2360.4" r="9.5"/><circle cx="2058.4" cy="2490.1" r="9.5"/><circle cx="2058.4" cy="2508.5" r="9.5"/><circle cx="2058.4" cy="2560.1" r="9.5"/><circle cx="2058.4" cy="2573.1" r="9.5"/>
</g>
<path d="M1804.4 2527.7H2132" stroke="#000" stroke-width="2.6"/>
<path class="eb2" d="M1877 2329.1V2440.0M1871.5 2329.1h11M1871.5 2440.0h11M1967.7 2460.2V2503.4M1962.2 2460.2h11M1962.2 2503.4h11M2058.4 2375.8V2485.0M2052.9 2375.8h11M2052.9 2485.0h11"/>
<path class="ax" d="M1804.4 2132.3V2592.7H2132"/>
<path class="tk" d="M1804.4 2138.3h9M1804.4 2203.2h9M1804.4 2268.1h9M1804.4 2333.0h9M1804.4 2397.9h9M1804.4 2462.8h9M1804.4 2527.7h9"/>
<g class="t34" text-anchor="end">
<text x="1794.8" y="2150.3">0.3</text><text x="1794.8" y="2280.1">0.2</text><text x="1794.8" y="2409.9">0.1</text><text x="1794.8" y="2539.7">0</text>
</g>
<text class="t36" transform="translate(1729,2366) rotate(-90)" text-anchor="middle">explained variance</text>
<text class="t37" transform="translate(1847,2622) rotate(31)">session</text>
<text class="t37" transform="translate(1935,2622) rotate(31)">behaviour</text>
<text class="t37" transform="translate(2040,2626) rotate(31)">both</text>
</svg>
</body></html>
